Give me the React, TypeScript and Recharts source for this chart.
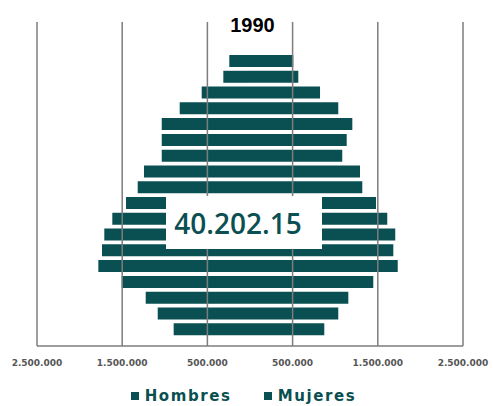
import React from 'react';
import { BarChart, Bar, XAxis, YAxis, ReferenceLine } from 'recharts';

const edades = ['85+', '80-84', '75-79', '70-74', '65-69', '60-64', '55-59', '50-54', '45-49', '40-44', '35-39', '30-34', '25-29', '20-24', '15-19', '10-14', '5-9', '0-4'];
const hombres = [243000, 313000, 567000, 825000, 1036000, 1036000, 1036000, 1244000, 1318000, 1455000, 1616000, 1710000, 1737000, 1780000, 1506000, 1224000, 1083000, 896000];
const mujeres = [508000, 567000, 822000, 1036000, 1201000, 1135000, 1083000, 1291000, 1318000, 1479000, 1611000, 1705000, 1682000, 1734000, 1447000, 1154000, 1036000, 872000];
const ticks = [-2500000, -1500000, -500000, 500000, 1500000, 2500000];
const titulo = '1990';
const total = '40.202.15';

const TEAL = '#0a4f51';
const GRID = '#7d7d7d';

const data = edades.map((edad, i) => ({ edad, Hombres: -hombres[i], Mujeres: mujeres[i] }));

const fmt = (v: number) => String(Math.abs(v)).replace(/\B(?=(\d{3})+(?!\d))/g, '.');

export default function App() {
  return (
    <div style={{ position: 'absolute', left: 0, top: 0, width: 493, height: 406, background: '#fff' }}>
      <BarChart
        width={493}
        height={406}
        data={data}
        layout="vertical"
        stackOffset="sign"
        margin={{ top: 22, right: 30, left: 37, bottom: 30 }}
      >
        <XAxis
          type="number"
          domain={[-2500000, 2500000]}
          ticks={ticks}
          tickFormatter={fmt}
          allowDataOverflow
          axisLine={{ stroke: GRID, strokeWidth: 1.5 }}
          tickLine={false}
          tickMargin={8}
          height={30}
          tick={{ fontSize: 9, fontWeight: 700, fill: '#555', fontFamily: 'DejaVu Sans' }}
        />
        <YAxis type="category" dataKey="edad" hide padding={{ top: 31, bottom: 9 }} />
        <Bar dataKey="Hombres" stackId="p" fill={TEAL} barSize={12} isAnimationActive={false} />
        <Bar dataKey="Mujeres" stackId="p" fill={TEAL} barSize={12} isAnimationActive={false} />
        {ticks.map((t) => (
          <ReferenceLine key={t} x={t} stroke={GRID} strokeWidth={1.5} />
        ))}
      </BarChart>

      <div
        style={{
          position: 'absolute', left: 0, width: 493, top: 15, textAlign: 'center',
          fontFamily: '"Liberation Sans Narrow", "Liberation Sans"', fontWeight: 700, fontSize: 20,
          lineHeight: '20px', color: '#000', paddingLeft: 12, boxSizing: 'border-box',
        }}
      >
        {titulo}
      </div>

      <div
        style={{
          position: 'absolute', left: 166, top: 196, width: 156, height: 53, background: '#fff',
          display: 'flex', alignItems: 'center', justifyContent: 'center',
          fontFamily: '"Open Sans"', fontWeight: 600, fontSize: 28, color: TEAL, paddingRight: 12, boxSizing: 'border-box',
        }}
      >
        {total}
      </div>

      <div
        style={{
          position: 'absolute', left: 0, width: 493, top: 387, display: 'flex', justifyContent: 'center', gap: 32,
          fontFamily: '"DejaVu Sans"', fontWeight: 700, fontSize: 15, color: TEAL, letterSpacing: 1.6, paddingRight: 6, boxSizing: 'border-box',
        }}
      >
        {['Hombres', 'Mujeres'].map((n) => (
          <div key={n} style={{ display: 'flex', alignItems: 'center', gap: 6 }}>
            <span style={{ display: 'inline-block', width: 8, height: 8, background: TEAL }} />
            <span>{n}</span>
          </div>
        ))}
      </div>
    </div>
  );
}
